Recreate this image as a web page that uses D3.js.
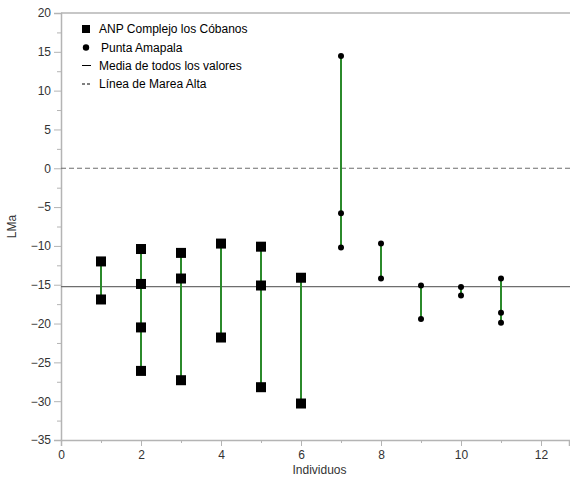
<!DOCTYPE html>
<html>
<head>
<meta charset="utf-8">
<script src="https://cdn.jsdelivr.net/npm/d3@7"></script>
<style>
  body { margin: 0; background: #fff; }
  text { font-family: "Liberation Sans", Arial, sans-serif; }
</style>
</head>
<body>
<svg id="chart" width="570" height="477"></svg>
<script>
// individuals and their LMa values
var cobanosIds = [1, 2, 3, 4, 5, 6];
var cobanosValues = [
  [-12.0, -16.9],
  [-10.4, -14.9, -20.5, -26.1],
  [-10.9, -14.2, -27.3],
  [-9.7, -21.8],
  [-10.1, -15.1, -28.2],
  [-14.1, -30.3]
];
var amapalaIds = [7, 8, 9, 10, 11];
var amapalaValues = [
  [14.45, -5.8, -10.2],
  [-9.7, -14.2],
  [-15.1, -19.4],
  [-15.3, -16.4],
  [-14.2, -18.6, -19.9]
];
var highTide = 0;
var xTicks = [0, 2, 4, 6, 8, 10, 12];
var yTicks = [20, 15, 10, 5, 0, -5, -10, -15, -20, -25, -30, -35];
var legendLabels = ["ANP Complejo los Cóbanos", "Punta Amapala", "Media de todos los valores", "Línea de Marea Alta"];

var svg = d3.select("#chart");
var margin = { left: 61, top: 13, right: 1, bottom: 37 };
var W = 570, H = 477;

var x = d3.scaleLinear().domain([0, 12.7]).range([margin.left, W - margin.right]);
var y = d3.scaleLinear().domain([-35, 20]).range([H - margin.bottom, margin.top]);

function flatten(ids, vals) {
  var out = [];
  ids.forEach(function (id, i) {
    vals[i].forEach(function (v) { out.push({ id: id, v: v }); });
  });
  return out;
}
var cobanos = flatten(cobanosIds, cobanosValues);
var amapala = flatten(amapalaIds, amapalaValues);
var mean = d3.mean(cobanos.concat(amapala), function (d) { return d.v; });

var axisColor = "#b4b4b4";
var textColor = "#333";

// top frame line
svg.append("line")
  .attr("x1", x(0)).attr("x2", W)
  .attr("y1", y(20)).attr("y2", y(20))
  .attr("stroke", axisColor).attr("stroke-width", 1.5);

// y axis
var yAxis = svg.append("g").attr("transform", "translate(" + x(0) + ",0)")
  .call(d3.axisLeft(y).tickValues(yTicks).tickSize(7).tickPadding(3));
var yMinor = svg.append("g").attr("transform", "translate(" + x(0) + ",0)")
  .call(d3.axisLeft(y).tickValues(d3.range(-32.5, 20, 5)).tickSize(4).tickFormat(""));

// x axis
var xAxis = svg.append("g").attr("transform", "translate(0," + y(-35) + ")")
  .call(d3.axisBottom(x).tickValues(xTicks).tickSize(6).tickPadding(4));
var xMinor = svg.append("g").attr("transform", "translate(0," + y(-35) + ")")
  .call(d3.axisBottom(x).tickValues([1, 3, 5, 7, 9, 11]).tickSize(3).tickFormat(""));

[yAxis, yMinor, xAxis, xMinor].forEach(function (g) {
  g.select(".domain").attr("stroke", axisColor).attr("stroke-width", 1.5);
  g.selectAll(".tick line").attr("stroke", axisColor);
  g.selectAll(".tick text").attr("fill", textColor).style("font-size", "12px")
    .style("font-family", "'Liberation Sans', Arial, sans-serif");
});
xMinor.select(".domain").remove();
yMinor.select(".domain").remove();

// axis titles
svg.append("text")
  .attr("x", (x(0) + W) / 2 + 4).attr("y", 474)
  .attr("text-anchor", "middle").attr("fill", textColor)
  .style("font-size", "12px").text("Individuos");
svg.append("text")
  .attr("transform", "translate(16," + y((20 + -35) / 2) + ") rotate(-90)")
  .attr("text-anchor", "middle").attr("fill", textColor)
  .style("font-size", "12px").text("LMa");

// reference lines
svg.append("line")
  .attr("x1", x(0)).attr("x2", W)
  .attr("y1", y(highTide)).attr("y2", y(highTide))
  .attr("stroke", "#6e6e6e").attr("stroke-width", 1.2)
  .attr("stroke-dasharray", "5,3");
svg.append("line")
  .attr("x1", x(0)).attr("x2", W)
  .attr("y1", y(mean)).attr("y2", y(mean))
  .attr("stroke", "#6e6e6e").attr("stroke-width", 1.2);

// range lines per individual
var ranges = cobanosIds.map(function (id, i) {
  return { id: id, lo: d3.min(cobanosValues[i]), hi: d3.max(cobanosValues[i]) };
}).concat(amapalaIds.map(function (id, i) {
  return { id: id, lo: d3.min(amapalaValues[i]), hi: d3.max(amapalaValues[i]) };
}));
svg.selectAll("line.range").data(ranges).enter().append("line")
  .attr("class", "range")
  .attr("x1", function (d) { return x(d.id); })
  .attr("x2", function (d) { return x(d.id); })
  .attr("y1", function (d) { return y(d.lo); })
  .attr("y2", function (d) { return y(d.hi); })
  .attr("stroke", "#2b8a2b").attr("stroke-width", 2);

// points
var sq = 10;
svg.selectAll("rect.cob").data(cobanos).enter().append("rect")
  .attr("class", "cob")
  .attr("x", function (d) { return x(d.id) - sq / 2; })
  .attr("y", function (d) { return y(d.v) - sq / 2; })
  .attr("width", sq).attr("height", sq)
  .attr("fill", "#000");
svg.selectAll("circle.ama").data(amapala).enter().append("circle")
  .attr("class", "ama")
  .attr("cx", function (d) { return x(d.id); })
  .attr("cy", function (d) { return y(d.v); })
  .attr("r", 3)
  .attr("fill", "#000");

// legend
var lg = svg.append("g");
var rowY = [29, 47.5, 65.5, 84];
lg.append("rect").attr("x", 82).attr("y", rowY[0] - 4).attr("width", 8).attr("height", 8).attr("fill", "#000");
lg.append("circle").attr("cx", 86).attr("cy", rowY[1]).attr("r", 3.2).attr("fill", "#000");
lg.append("line").attr("x1", 82).attr("x2", 91).attr("y1", rowY[2]).attr("y2", rowY[2])
  .attr("stroke", "#000").attr("stroke-width", 1);
lg.append("line").attr("x1", 82).attr("x2", 92).attr("y1", rowY[3]).attr("y2", rowY[3])
  .attr("stroke", "#000").attr("stroke-width", 1).attr("stroke-dasharray", "3,2");
lg.selectAll("text").data(legendLabels).enter().append("text")
  .attr("x", function (d, i) { return i === 1 ? 101 : 99; })
  .attr("y", function (d, i) { return rowY[i] + 4; })
  .attr("fill", "#000").style("font-size", "12px")
  .text(function (d) { return d; });
</script>
</body>
</html>
